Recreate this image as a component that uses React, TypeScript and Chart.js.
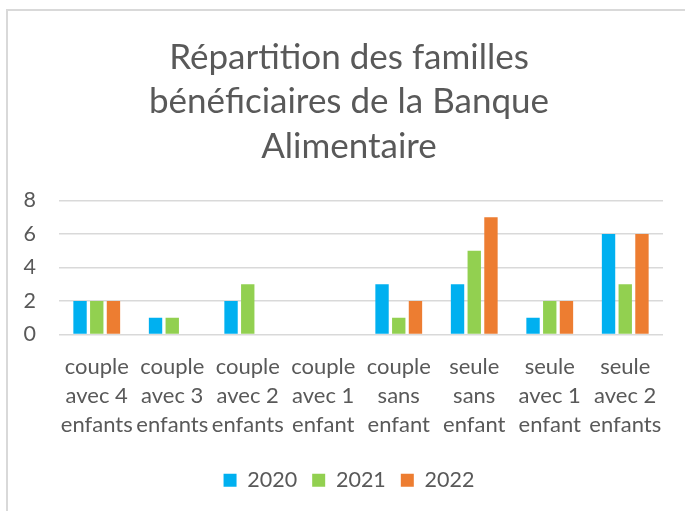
import React, { useEffect, useRef } from "react";
import { Chart, registerables } from "chart.js";

Chart.register(...registerables);

const categories: string[][] = [
  ["couple", "avec 4", "enfants"],
  ["couple", "avec 3", "enfants"],
  ["couple", "avec 2", "enfants"],
  ["couple", "avec 1", "enfant"],
  ["couple", "sans", "enfant"],
  ["seule", "sans", "enfant"],
  ["seule", "avec 1", "enfant"],
  ["seule", "avec 2", "enfants"],
];
const values2020 = [2, 1, 2, 0, 3, 3, 1, 6];
const values2021 = [2, 1, 3, 0, 1, 5, 2, 3];
const values2022 = [2, 0, 0, 0, 2, 7, 2, 6];
const titleLines = ["Répartition des familles", "bénéficiaires de la Banque", "Alimentaire"];

const FONT = "Lato, Carlito, Calibri, sans-serif";
const TEXT = "#595959";
const CANVAS_W = 682;

export default function App() {
  const ref = useRef<HTMLCanvasElement | null>(null);
  useEffect(() => {
    if (!ref.current) return;
    const chart = new Chart(ref.current, {
      type: "bar",
      data: {
        labels: categories,
        datasets: [
          { label: "2020", data: values2020, backgroundColor: "#00b0f0" },
          { label: "2021", data: values2021, backgroundColor: "#92d050" },
          { label: "2022", data: values2022, backgroundColor: "#ed7d31" },
        ],
      },
      options: {
        animation: false,
        responsive: false,
        maintainAspectRatio: false,
        datasets: { bar: { categoryPercentage: 0.664, barPercentage: 0.8, borderWidth: 0 } },
        layout: { padding: { left: 0, right: 0, top: 0, bottom: 10 } },
        plugins: {
          tooltip: { enabled: false },
          title: {
            display: true,
            text: titleLines,
            color: TEXT,
            font: { family: FONT, size: 35, weight: "normal", lineHeight: 44.5 / 35 },
            padding: { top: 24, bottom: 32 },
          },
          legend: {
            position: "bottom",
            labels: {
              color: TEXT,
              font: { family: FONT, size: 21.5 },
              boxWidth: 13,
              boxHeight: 13,
              padding: 15,
            },
          },
        },
        scales: {
          x: {
            grid: { display: false },
            border: { display: false },
            ticks: {
              color: TEXT,
              font: { family: FONT, size: 22, lineHeight: 29 / 22 },
              padding: 10,
              maxRotation: 0,
              autoSkip: false,
            },
            afterFit: (s: any) => {
              s.height = 120;
            },
          },
          y: {
            min: 0,
            max: 8,
            grid: { color: "#d9d9d9", lineWidth: 1.5, drawTicks: false },
            border: { display: false },
            ticks: {
              stepSize: 2,
              color: TEXT,
              font: { family: FONT, size: 21.5 },
              padding: 23,
            },
            afterFit: (s: any) => {
              s.width = 51;
            },
          },
          yRightSpace: {
            position: "right",
            display: true,
            grid: { display: false },
            border: { display: false },
            ticks: { display: false },
            afterFit: (s: any) => {
              s.width = CANVAS_W - 655;
            },
          },
        },
      },
    });
    return () => chart.destroy();
  }, []);

  return (
    <div
      style={{
        position: "absolute",
        left: 6,
        top: 9,
        width: 679,
        height: 502,
        borderTop: "2px solid #d9d9d9",
        borderLeft: "2px solid #d9d9d9",
        background: "#fff",
        overflow: "hidden",
      }}
    >
      <canvas ref={ref} width={CANVAS_W} height={500} style={{ display: "block" }} />
    </div>
  );
}
